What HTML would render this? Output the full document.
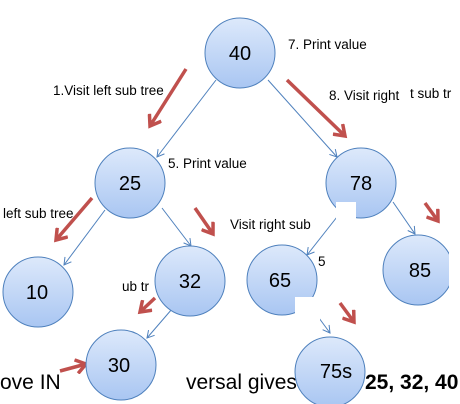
<!DOCTYPE html>
<html><head><meta charset="utf-8"><style>
html,body{margin:0;padding:0;background:#fff;}
svg{display:block;font-family:"Liberation Sans",sans-serif;}
</style></head><body>
<svg width="460" height="404" viewBox="0 0 460 404" xmlns="http://www.w3.org/2000/svg">
<defs>
<linearGradient id="g" x1="0" y1="0" x2="0" y2="1">
<stop offset="0" stop-color="#dde9fb"/><stop offset="1" stop-color="#a9c6f2"/>
</linearGradient>
<marker id="ba" markerWidth="10" markerHeight="10" refX="8" refY="5" orient="auto" markerUnits="userSpaceOnUse">
<path d="M1,1 L8,5 L1,9" fill="none" stroke="#4f81bd" stroke-width="1"/></marker>
<marker id="ra" markerWidth="16" markerHeight="16" refX="12" refY="8" orient="auto" markerUnits="userSpaceOnUse">
<path d="M2,1 L12,8 L2,15" fill="none" stroke="#c0504d" stroke-width="3.5"/></marker>
</defs>
<g font-size="21" fill="#000">
<text x="0" y="389">ove IN</text>
<text x="186" y="389">versal gives</text>
<text x="365" y="389" font-weight="bold">25, 32, 40</text>
</g>
<g stroke="#4f81bd" stroke-width="1" fill="none" marker-end="url(#ba)">
<line x1="216" y1="80" x2="157" y2="157"/>
<line x1="268" y1="80" x2="337" y2="157"/>
<line x1="105" y1="210" x2="64" y2="265"/>
<line x1="162" y1="208" x2="191" y2="246"/>
<line x1="348" y1="203" x2="307" y2="255"/>
<line x1="393" y1="202" x2="415" y2="234"/>
<line x1="172" y1="309" x2="147" y2="338"/>
<line x1="308" y1="303" x2="330" y2="333"/>
</g>
<g stroke="#c0504d" stroke-width="3.5" fill="none" marker-end="url(#ra)">
<line x1="186" y1="69" x2="150" y2="126"/>
<line x1="287" y1="80" x2="345" y2="136"/>
<line x1="92" y1="198" x2="56" y2="240"/>
<line x1="195" y1="208" x2="213" y2="234"/>
<line x1="155" y1="298" x2="140" y2="312"/>
<line x1="340" y1="303" x2="354" y2="322"/>
<line x1="425" y1="203" x2="438" y2="221"/>
<line x1="60" y1="371" x2="86" y2="364"/>
</g>
<g fill="url(#g)" stroke="#4f81bd" stroke-width="1">
<circle cx="240" cy="53" r="35"/>
<circle cx="130" cy="183" r="35"/>
<circle cx="361" cy="183" r="35"/>
<circle cx="38" cy="292" r="35"/>
<circle cx="190" cy="281" r="35"/>
<circle cx="282" cy="280" r="35"/>
<circle cx="418" cy="270" r="35"/>
<circle cx="121" cy="365" r="35"/>
<circle cx="330" cy="372" r="35"/>
</g>
<rect x="449" y="220" width="11" height="100" fill="#fff"/>
<rect x="336" y="202" width="20" height="20" fill="#fff"/>
<rect x="295" y="297" width="25" height="30" fill="#fff"/>
<g font-size="20" fill="#000" text-anchor="middle">
<text x="240" y="60">40</text>
<text x="130" y="190">25</text>
<text x="361" y="190">78</text>
<text x="37" y="299">10</text>
<text x="190" y="288">32</text>
<text x="280" y="287">65</text>
<text x="420" y="277">85</text>
<text x="119" y="372">30</text>
<text x="336" y="378">75s</text>
</g>
<g font-size="13.5" fill="#000">
<text x="288" y="49">7. Print value</text>
<text x="53" y="95">1.Visit left sub tree</text>
<text x="329" y="100">8. Visit right</text>
<text x="410" y="98">t sub tr</text>
<text x="168" y="168">5. Print value</text>
<text x="3" y="218">left sub tree</text>
<text x="230" y="229">Visit right sub</text>
<text x="122" y="291">ub tr</text>
<text x="318" y="266">5</text>
</g>
</svg>
</body></html>
